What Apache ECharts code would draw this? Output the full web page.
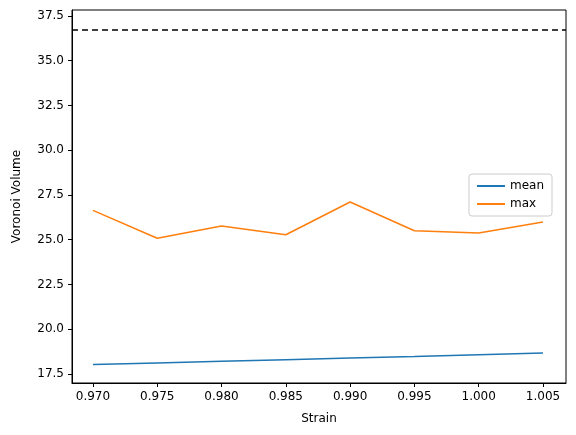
<!DOCTYPE html><html><head><meta charset="utf-8"><script src="https://cdn.jsdelivr.net/npm/echarts@6/dist/echarts.min.js"></script></head><body style="margin:0"><div id="c" style="width:576px;height:435px"></div><script>
const strain=[0.970,0.975,0.980,0.985,0.990,0.995,1.000,1.005];
const meanV=[18.03,18.12,18.21,18.30,18.39,18.48,18.58,18.68];
const maxV=[26.64,25.08,25.77,25.28,27.11,25.50,25.38,25.99];
const refLine=36.72;
const xTicks=[0.970,0.975,0.980,0.985,0.990,0.995,1.000,1.005];
const yTicks=[17.5,20.0,22.5,25.0,27.5,30.0,32.5,35.0,37.5];
const f='DejaVu Sans';
const c=echarts.init(document.getElementById('c'));
c.setOption({animation:false,
grid:{left:72,right:10,top:10,bottom:52,show:true,borderColor:'#000',borderWidth:1},
legend:{data:['mean','max'],right:24,top:174,orient:'vertical',itemWidth:28,itemHeight:2,itemGap:6,icon:'rect',
 textStyle:{fontFamily:f,fontSize:12,color:'#000'},borderColor:'#ccc',borderWidth:1,borderRadius:3,padding:[6,8]},
xAxis:{type:'value',min:0.96837,max:1.00679,name:'Strain',nameLocation:'middle',nameGap:30,
 nameTextStyle:{fontFamily:f,fontSize:12,color:'#000'},splitLine:{show:false},
 axisLine:{onZero:false,lineStyle:{color:'#000'}},
 axisTick:{customValues:xTicks,length:4,lineStyle:{color:'#000'}},
 axisLabel:{customValues:xTicks,formatter:v=>v.toFixed(3),fontFamily:f,fontSize:12,color:'#000'}},
yAxis:{type:'value',min:17.0,max:37.83,name:'Voronoi Volume',nameLocation:'middle',nameGap:49,
 nameTextStyle:{fontFamily:f,fontSize:12,color:'#000'},splitLine:{show:false},
 axisLine:{show:true,onZero:false,lineStyle:{color:'#000'}},
 axisTick:{show:true,customValues:yTicks,length:4,lineStyle:{color:'#000'}},
 axisLabel:{customValues:yTicks,formatter:v=>v.toFixed(1),fontFamily:f,fontSize:12,color:'#000'}},
series:[
{name:'mean',type:'line',data:strain.map((s,i)=>[s,meanV[i]]),showSymbol:false,lineStyle:{color:'#1f77b4',width:1.5},itemStyle:{color:'#1f77b4'},
 markLine:{silent:true,symbol:'none',label:{show:false},lineStyle:{color:'#000',type:[6,4],width:1.5},data:[{yAxis:refLine}]}},
{name:'max',type:'line',data:strain.map((s,i)=>[s,maxV[i]]),showSymbol:false,lineStyle:{color:'#ff7f0e',width:1.5},itemStyle:{color:'#ff7f0e'}}
]});
</script></body></html>
